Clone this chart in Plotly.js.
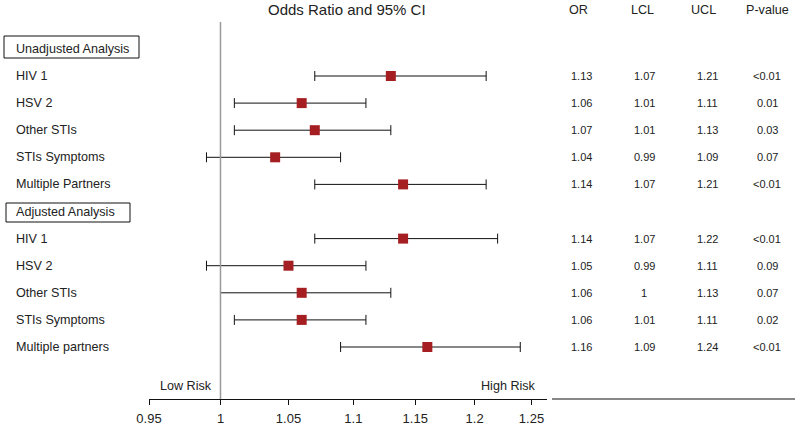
<!DOCTYPE html>
<html>
<head>
<meta charset="utf-8">
<script src="https://cdn.plot.ly/plotly-3.0.1.min.js"></script>
<style>
  body { margin: 0; background: #fff; }
  #plot { width: 800px; height: 425px; }
</style>
</head>
<body>
<div id="plot"></div>
<script>
// data
let groups = ["Unadjusted Analysis", "Adjusted Analysis"];
let unadjLabels = ["HIV 1", "HSV 2", "Other STIs", "STIs Symptoms", "Multiple Partners"];
let unadjOR = [1.13, 1.06, 1.07, 1.04, 1.14];
let unadjLCL = [1.07, 1.01, 1.01, 0.99, 1.07];
let unadjUCL = [1.21, 1.11, 1.13, 1.09, 1.21];
let unadjP = ["<0.01", "0.01", "0.03", "0.07", "<0.01"];

let adjLabels = ["HIV 1", "HSV 2", "Other STIs", "STIs Symptoms", "Multiple partners"];
let adjOR = [1.14, 1.05, 1.06, 1.06, 1.16];
let adjLCL = [1.07, 0.99, 1, 1.01, 1.09];
let adjUCL = [1.22, 1.11, 1.13, 1.11, 1.24];
let adjP = ["<0.01", "0.09", "0.07", "0.02", "<0.01"];

let tickVals = [0.95, 1, 1.05, 1.1, 1.15, 1.2, 1.25];
let tableHeads = ["OR", "LCL", "UCL", "P-value"];

// build rows: header, then its items
let rows = [];
let labs = [], ors = [], lcls = [], ucls = [], ps = [];
let headerRows = [];
let r = 0;
[[unadjLabels, unadjOR, unadjLCL, unadjUCL, unadjP],
 [adjLabels, adjOR, adjLCL, adjUCL, adjP]].forEach(function (g) {
    headerRows.push(r);
    r++;
    g[0].forEach(function (lab, i) {
        rows.push(r);
        labs.push(lab);
        ors.push(g[1][i]);
        lcls.push(g[2][i]);
        ucls.push(g[3][i]);
        ps.push(g[4][i]);
        r++;
    });
});

let font = "Arial, 'Liberation Sans', sans-serif";
let txt = "#222";

// plot area is 149..547 px wide, 24..399 px tall
function px(x) { return (x - 149) / 398; }
function py(y) { return (399 - y) / 375; }

let trace = {
    x: ors,
    y: rows,
    mode: "markers",
    type: "scatter",
    marker: { symbol: "square", size: 10, color: "#a51f22" },
    error_x: {
        type: "data",
        symmetric: false,
        array: ors.map(function (o, i) { return ucls[i] - o; }),
        arrayminus: ors.map(function (o, i) { return o - lcls[i]; }),
        color: "#111",
        thickness: 1,
        width: 5
    },
    hoverinfo: "skip"
};

function note(text, x, y, opts) {
    let a = {
        text: text, xref: "paper", yref: "paper", x: x, y: y,
        xanchor: "center", yanchor: "middle", showarrow: false,
        font: { family: font, size: 12.6, color: txt }
    };
    Object.assign(a, opts || {});
    return a;
}

let ann = [];
ann.push(note("Odds Ratio and 95% CI", px(347), py(10), { font: { family: font, size: 15, color: txt } }));

let headX = [578, 642, 703, 767];
let colX = [581, 644, 707, 767];
tableHeads.forEach(function (h, i) {
    ann.push(note(h, px(headX[i]), py(10)));
});

groups.forEach(function (g, i) {
    ann.push(note(g, px(14), headerRows[i], { yref: "y", xanchor: "left" }));
});

labs.forEach(function (lab, i) {
    ann.push(note(lab, px(14), rows[i], { yref: "y", xanchor: "left" }));
    let vals = [String(ors[i]), String(lcls[i]), String(ucls[i]), ps[i]];
    vals.forEach(function (v, j) {
        ann.push(note(v.replace("<", "&lt;"), px(colX[j]), rows[i],
            { yref: "y", font: { family: font, size: 11, color: txt } }));
    });
});

ann.push(note("Low Risk", px(214), py(386), { xanchor: "right" }));
ann.push(note("High Risk", px(538), py(386), { xanchor: "right" }));

let shapes = [
    { type: "line", xref: "x", yref: "paper", x0: 1, x1: 1, y0: 0, y1: py(22),
      line: { color: "#999", width: 1.5 } },
    { type: "rect", xref: "paper", yref: "paper", x0: px(4), x1: px(139), y0: py(58), y1: py(36),
      line: { color: "#111", width: 1 } },
    { type: "rect", xref: "paper", yref: "paper", x0: px(6), x1: px(130), y0: py(222), y1: py(203),
      line: { color: "#111", width: 1 } },
    { type: "line", xref: "paper", yref: "paper", x0: px(552), x1: px(795), y0: 0, y1: 0,
      line: { color: "#111", width: 1 } }
];

let layout = {
    width: 800,
    height: 425,
    margin: { l: 149, r: 253, t: 24, b: 26, pad: 0 },
    paper_bgcolor: "#fff",
    plot_bgcolor: "#fff",
    showlegend: false,
    xaxis: {
        type: "log",
        range: [Math.log10(0.95), Math.log10(1.264)],
        tickvals: tickVals,
        ticktext: tickVals.map(String),
        ticks: "outside",
        ticklen: 5,
        tickcolor: "#111",
        ticklabelstandoff: 2,
        showline: true,
        linecolor: "#111",
        linewidth: 1,
        showgrid: false,
        zeroline: false,
        tickfont: { family: font, size: 13, color: txt }
    },
    yaxis: {
        range: [12.919, -0.919],
        visible: false,
        showgrid: false,
        zeroline: false
    },
    annotations: ann,
    shapes: shapes
};

Plotly.newPlot("plot", [trace], layout, { displayModeBar: false, staticPlot: true });
</script>
</body>
</html>
